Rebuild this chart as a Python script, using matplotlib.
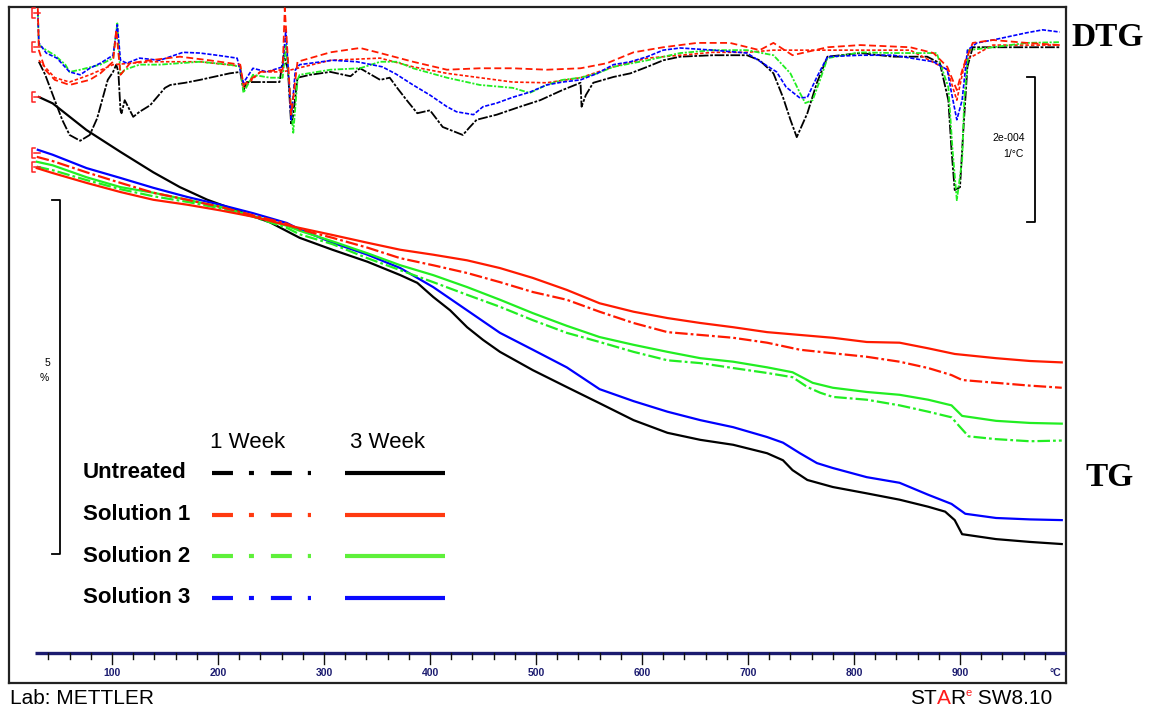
import matplotlib
matplotlib.use("Agg")
import matplotlib.pyplot as plt
from matplotlib.transforms import blended_transform_factory

plt.rcParams['lines.scale_dashes'] = False
plt.rcParams['font.family'] = ['Liberation Sans', 'DejaVu Sans']

# ---------------- data ----------------
# TG curves: temperature (°C) vs. relative mass (%), offset as displayed by STARe
tg_untreated_3w_T = [31, 44, 60, 76, 108, 139, 164, 190, 221, 249, 277, 308, 341, 372, 388, 403, 419, 435, 450, 466,
                     497, 529, 560, 592, 624, 655, 686, 718, 733, 742, 756, 780, 812, 843, 870, 886, 895, 902, 934, 966, 996]
tg_untreated_3w = [100.00, 99.91, 99.72, 99.53, 99.22, 98.93, 98.72, 98.54, 98.37, 98.22, 98.00, 97.83, 97.66, 97.47,
                   97.36, 97.16, 96.97, 96.73, 96.55, 96.38, 96.12, 95.88, 95.65, 95.41, 95.23, 95.13, 95.06, 94.94,
                   94.84, 94.70, 94.56, 94.46, 94.37, 94.28, 94.18, 94.11, 93.99, 93.79, 93.72, 93.68, 93.65]

tg_sol3_3w_T = [30, 44, 76, 108, 139, 171, 202, 233, 265, 277, 308, 341, 372, 403, 435, 466, 497, 529, 560, 592,
                624, 655, 686, 718, 733, 749, 765, 780, 812, 843, 870, 892, 905, 934, 966, 996]
tg_sol3_3w = [99.25, 99.18, 98.99, 98.85, 98.71, 98.58, 98.47, 98.35, 98.21, 98.12, 97.93, 97.76, 97.57, 97.30, 96.97,
              96.65, 96.41, 96.16, 95.85, 95.68, 95.53, 95.41, 95.31, 95.17, 95.09, 94.94, 94.80, 94.73, 94.60, 94.52,
              94.35, 94.22, 94.08, 94.02, 94.00, 93.99]

tg_sol1_3w_T = [29, 44, 76, 108, 139, 171, 202, 233, 265, 277, 308, 341, 372, 403, 435, 466, 497, 529, 560, 592,
                624, 655, 686, 718, 749, 780, 812, 843, 870, 895, 934, 966, 996]
tg_sol1_3w = [98.99, 98.92, 98.78, 98.65, 98.54, 98.47, 98.39, 98.30, 98.18, 98.14, 98.04, 97.93, 97.83, 97.76, 97.68,
              97.57, 97.43, 97.26, 97.07, 96.95, 96.86, 96.79, 96.73, 96.66, 96.62, 96.58, 96.52, 96.51, 96.43, 96.35,
              96.29, 96.25, 96.23]

tg_sol1_1w_T = [29, 44, 76, 108, 139, 171, 202, 233, 265, 277, 308, 341, 372, 403, 435, 466, 497, 529, 560, 592,
                624, 655, 686, 718, 749, 780, 812, 843, 870, 892, 902, 934, 966, 996]
tg_sol1_1w = [99.15, 99.09, 98.93, 98.78, 98.64, 98.54, 98.44, 98.32, 98.20, 98.12, 98.00, 97.86, 97.71, 97.61, 97.50,
              97.37, 97.23, 97.12, 96.95, 96.79, 96.66, 96.62, 96.58, 96.51, 96.41, 96.36, 96.31, 96.24, 96.15, 96.05,
              95.98, 95.94, 95.90, 95.87]

tg_sol2_3w_T = [29, 44, 76, 108, 139, 171, 202, 233, 265, 277, 308, 341, 372, 403, 435, 466, 497, 529, 560, 592,
                624, 655, 686, 718, 742, 761, 780, 812, 843, 870, 892, 902, 934, 966, 996]
tg_sol2_3w = [99.08, 99.03, 98.86, 98.72, 98.64, 98.54, 98.44, 98.31, 98.17, 98.10, 97.95, 97.78, 97.61, 97.47, 97.30,
              97.12, 96.93, 96.75, 96.59, 96.48, 96.38, 96.29, 96.24, 96.16, 96.09, 95.94, 95.87, 95.81, 95.77, 95.70,
              95.62, 95.47, 95.40, 95.37, 95.36]

tg_sol2_1w_T = [29, 44, 76, 108, 139, 171, 202, 233, 265, 277, 308, 341, 372, 403, 435, 466, 497, 529, 560, 592,
                624, 655, 686, 718, 742, 756, 768, 780, 812, 843, 870, 892, 899, 908, 934, 966, 996]
tg_sol2_1w = [99.01, 98.96, 98.82, 98.69, 98.59, 98.51, 98.42, 98.30, 98.14, 98.05, 97.91, 97.71, 97.54, 97.37, 97.19,
              97.02, 96.83, 96.65, 96.52, 96.38, 96.26, 96.22, 96.15, 96.08, 96.02, 95.88, 95.80, 95.74, 95.70, 95.62,
              95.53, 95.45, 95.33, 95.18, 95.14, 95.11, 95.12]

# DTG curves: temperature (°C) vs. DTG in units of 1e-4 1/°C
dtg_untreated_T = [31, 37, 46, 53, 60, 70, 79, 86, 92, 96, 101, 104, 106, 108, 109, 112, 120, 126, 136, 150,
                   155, 169, 183, 211, 221, 224, 227, 235, 258, 262, 266, 269, 271, 275, 287, 306, 325, 334, 353, 362,
                   369, 378, 388, 400, 412, 431, 437, 444, 463, 485, 504, 525, 542, 543, 547, 554, 573, 589, 605, 620,
                   636, 667, 699, 711, 724, 733, 740, 746, 756, 765, 775, 806, 837, 869, 881, 889, 892, 895, 900, 903,
                   907, 912, 931, 963, 994]
dtg_untreated = [-0.30, -0.48, -0.83, -1.10, -1.31, -1.39, -1.31, -1.08, -0.76, -0.55, -0.44, -0.34, -0.44, -0.97,
                 -1.01, -0.83, -1.06, -0.99, -0.90, -0.66, -0.62, -0.59, -0.55, -0.46, -0.44, -0.69, -0.58, -0.58,
                 -0.58, -0.21, -0.41, -1.17, -1.03, -0.52, -0.48, -0.44, -0.50, -0.39, -0.55, -0.52, -0.66, -0.83,
                 -1.01, -0.97, -1.20, -1.31, -1.21, -1.10, -1.03, -0.92, -0.83, -0.69, -0.59, -0.92, -0.76, -0.59,
                 -0.51, -0.46, -0.37, -0.28, -0.23, -0.21, -0.21, -0.28, -0.46, -0.79, -1.10, -1.34, -1.01, -0.59,
                 -0.23, -0.18, -0.23, -0.23, -0.32, -0.83, -1.52, -2.07, -2.03, -1.28, -0.37, -0.10, -0.10, -0.10,
                 -0.10]

dtg_sol3_T = [30, 31, 38, 48, 60, 70, 79, 89, 101, 105, 108, 114, 126, 145, 167, 183, 199, 218, 224, 233,
              246, 261, 264, 269, 273, 277, 308, 331, 355, 368, 384, 400, 416, 425, 441, 450, 463, 478, 494, 510,
              525, 542, 558, 573, 589, 605, 620, 636, 667, 699, 714, 727, 736, 749, 756, 765, 775, 806, 837, 875,
              888, 892, 897, 902, 907, 916, 931, 963, 978, 994]
dtg_sol3 = [0.39, -0.04, -0.18, -0.25, -0.44, -0.48, -0.39, -0.32, -0.21, 0.21, -0.28, -0.32, -0.25, -0.28, -0.17,
            -0.18, -0.21, -0.25, -0.59, -0.39, -0.44, -0.37, 0.14, -1.10, -0.41, -0.34, -0.28, -0.30, -0.37, -0.47,
            -0.62, -0.76, -0.92, -0.99, -1.03, -0.92, -0.87, -0.79, -0.72, -0.62, -0.58, -0.55, -0.46, -0.34, -0.30,
            -0.23, -0.14, -0.11, -0.14, -0.18, -0.32, -0.44, -0.65, -0.80, -0.79, -0.51, -0.23, -0.21, -0.21, -0.30,
            -0.41, -0.73, -1.10, -0.83, -0.14, -0.04, 0.00, 0.10, 0.14, 0.11]

dtg_sol2_T = [30, 31, 38, 46, 56, 60, 70, 89, 101, 105, 108, 112, 126, 145, 183, 211, 221, 224, 233, 249,
              261, 264, 271, 275, 277, 306, 334, 353, 369, 384, 416, 447, 478, 494, 510, 525, 542, 558, 573, 605,
              636, 667, 699, 724, 740, 749, 754, 761, 768, 775, 806, 837, 878, 889, 893, 897, 902, 904, 908, 931,
              963, 994]
dtg_sol2 = [0.39, -0.07, -0.14, -0.21, -0.34, -0.44, -0.41, -0.34, -0.25, 0.23, -0.48, -0.41, -0.34, -0.34, -0.30,
            -0.34, -0.37, -0.73, -0.48, -0.52, -0.52, -0.07, -1.28, -0.55, -0.48, -0.41, -0.39, -0.30, -0.30, -0.39,
            -0.52, -0.62, -0.66, -0.73, -0.62, -0.55, -0.52, -0.46, -0.37, -0.28, -0.18, -0.14, -0.14, -0.21, -0.46,
            -0.73, -0.87, -0.83, -0.55, -0.25, -0.17, -0.18, -0.18, -0.65, -1.52, -2.21, -1.66, -0.83, -0.14, -0.10,
            -0.04, -0.03]

dtg_sol1_1w_T = [30, 31, 37, 46, 60, 79, 89, 101, 104, 108, 117, 136, 164, 192, 221, 224, 240, 261, 263, 266,
                 269, 275, 287, 306, 334, 353, 384, 416, 447, 478, 510, 542, 567, 592, 620, 652, 683, 711, 724, 742,
                 775, 806, 853, 875, 888, 897, 903, 912, 931, 963, 994]
dtg_sol1_1w = [0.44, -0.14, -0.41, -0.55, -0.62, -0.55, -0.46, -0.30, 0.14, -0.48, -0.32, -0.28, -0.23, -0.28,
               -0.34, -0.62, -0.44, -0.41, 0.44, -0.28, -1.03, -0.30, -0.25, -0.17, -0.11, -0.18, -0.30, -0.41,
               -0.39, -0.39, -0.41, -0.39, -0.32, -0.17, -0.10, -0.04, -0.04, -0.14, -0.04, -0.21, -0.10, -0.07,
               -0.10, -0.18, -0.37, -0.69, -0.37, -0.04, 0.00, -0.04, -0.07]

dtg_sol1_3w_T = [31, 46, 60, 79, 101, 136, 183, 221, 224, 240, 261, 275, 306, 353, 384, 416, 447, 478, 510, 542,
                 573, 605, 667, 699, 724, 775, 853, 888, 897, 905, 931, 994]
dtg_sol1_3w = [-0.28, -0.52, -0.58, -0.48, -0.34, -0.30, -0.30, -0.36, -0.66, -0.44, -0.44, -0.39, -0.28, -0.25,
               -0.37, -0.46, -0.52, -0.58, -0.59, -0.52, -0.37, -0.25, -0.17, -0.17, -0.14, -0.14, -0.14, -0.41,
               -0.83, -0.28, -0.07, -0.07]

x_major_ticks = [100, 200, 300, 400, 500, 600, 700, 800, 900]
x_minor_ticks = list(range(40, 1000, 20))
legend_rows = ['Untreated', 'Solution 1', 'Solution 2', 'Solution 3']
legend_cols = ['1 Week', '3 Week']

# ---------------- layout ----------------
W, H = 1149, 711
BLACK, RED, GREEN, BLUE = '#000000', '#ff1a00', '#22ee22', '#0000ff'
LEG_COLORS = ['#000000', '#ff3a10', '#5ef03a', '#0a0aff']
NAVY = '#1c1c70'

fig = plt.figure(figsize=(W / 100, H / 100), dpi=100)
FL, FR, FT, FB = 9, 1066, 7, 683
rect = [FL / W, 1 - FB / H, (FR - FL) / W, (FB - FT) / H]

# calibrations (pixel positions of the scales)
T_of_px = lambda p: 100 + (p - 112) / 1.06
TG_of_px = lambda p: 100 - (p - 97) / 70.4
DTG_of_px = lambda p: (40 - p) / 72.5

ax = fig.add_axes(rect)
ax.set_xlim(T_of_px(FL), T_of_px(FR))
ax.set_ylim(TG_of_px(FB), TG_of_px(FT))
ax.set_xticks([]); ax.set_yticks([])
for s in ax.spines.values():
    s.set_linewidth(1.6); s.set_color('#222222')

ax2 = fig.add_axes(rect, sharex=ax)
ax2.set_ylim(DTG_of_px(FB), DTG_of_px(FT))
ax2.axis('off')
ax2.patch.set_visible(False)

ov = fig.add_axes([0, 0, 1, 1])
ov.set_xlim(0, W); ov.set_ylim(H, 0)
ov.axis('off'); ov.patch.set_visible(False)

dd = (0, (9, 2.2, 2, 2.2))
# TG curves
ax.plot(tg_untreated_3w_T, tg_untreated_3w, color=BLACK, lw=1.6)
ax.plot(tg_sol3_3w_T, tg_sol3_3w, color=BLUE, lw=1.6)
ax.plot(tg_sol2_1w_T, tg_sol2_1w, color=GREEN, lw=1.6, ls=dd)
ax.plot(tg_sol2_3w_T, tg_sol2_3w, color=GREEN, lw=1.6)
ax.plot(tg_sol1_1w_T, tg_sol1_1w, color=RED, lw=1.6, ls=dd)
ax.plot(tg_sol1_3w_T, tg_sol1_3w, color=RED, lw=1.6)

# DTG curves
ax2.plot(dtg_untreated_T, dtg_untreated, color=BLACK, lw=1.3, ls=(0, (7, 1.2, 2, 1.2)))
ax2.plot(dtg_sol1_3w_T, dtg_sol1_3w, color=RED, lw=1.2, ls=(0, (2.5, 1.5)))
ax2.plot(dtg_sol2_T, dtg_sol2, color=GREEN, lw=1.3, ls=(0, (4, 1.2, 1.5, 1.2)))
ax2.plot(dtg_sol3_T, dtg_sol3, color=BLUE, lw=1.2, ls=(0, (3, 1.2)))
ax2.plot(dtg_sol1_1w_T, dtg_sol1_1w, color=RED, lw=1.3, ls=(0, (5, 2.5)))

# temperature axis (x in °C, y in pixels)
AXY = 653
tr = blended_transform_factory(ax.transData, ov.transData)
ov.plot([27, T_of_px(FR)], [AXY, AXY], color=NAVY, lw=2.4, transform=tr, solid_capstyle='butt')
for t in x_minor_ticks:
    L = 11 if t in x_major_ticks else 6
    ov.plot([t, t], [AXY, AXY + L], color='#111111', lw=1.0, transform=tr)
for t in x_major_ticks:
    ov.text(t, 673, str(t), transform=tr, ha='center', va='center', fontsize=7.5, color=NAVY,
            fontweight='bold')
ov.text(990, 673, '°C', transform=tr, ha='center', va='center', fontsize=7.5, color=NAVY, fontweight='bold')

# start markers
for y in [13, 47, 97, 153, 167]:
    ov.plot([35, 31.5, 31.5, 35], [y - 5, y - 5, y + 5, y + 5], color='#ff2020', lw=1.1)
    ov.plot([34, 40], [y, y], color='#ff2020', lw=1.1)

# scale bars
ov.plot([52, 60, 60, 52], [200, 200, 554, 554], color='black', lw=1.3)
ov.text(47, 363, '5', ha='center', va='center', fontsize=7.5)
ov.text(44, 378, '%', ha='center', va='center', fontsize=7.5)
ov.plot([1027, 1035, 1035, 1027], [77, 77, 222, 222], color='black', lw=1.3)
ov.text(1025, 138, '2e-004', ha='right', va='center', fontsize=7.5)
ov.text(1024, 154, '1/°C', ha='right', va='center', fontsize=7.5)

# side labels
ov.text(1108, 38, 'DTG', ha='center', va='center', fontsize=24, fontweight='bold', family='Liberation Serif')
ov.text(1110, 478, 'TG', ha='center', va='center', fontsize=24, fontweight='bold', family='Liberation Serif')

# legend
ov.text(248, 443, legend_cols[0], ha='center', va='center', fontsize=16)
ov.text(387, 443, legend_cols[1], ha='center', va='center', fontsize=16)
for i, (name, c) in enumerate(zip(legend_rows, LEG_COLORS)):
    y = 473 + i * 41.5
    ov.text(83, y, name, ha='left', va='center', fontsize=16, fontweight='bold')
    ov.plot([212, 311], [y, y], color=c, lw=3.0, ls=(0, (15.1, 11.5, 3.6, 12.2)), dash_capstyle='butt')
    ov.plot([345, 445], [y, y], color=c, lw=3.0, solid_capstyle='butt')

# footer
ov.text(10, 698, 'Lab: METTLER', ha='left', va='center', fontsize=15)
fig.canvas.draw()
renderer = fig.canvas.get_renderer()
pieces = [('ST', 'black', 15, 0), ('A', '#ff1a1a', 15, 0), ('R', 'black', 15, 0),
          ('e', '#ff1a1a', 8, -5), (' SW8.10', 'black', 15, 0)]
x = 910
for txt, col, fs, dy in pieces:
    t = ov.text(x, 698 + dy, txt, ha='left', va='center', fontsize=fs, color=col)
    bb = t.get_window_extent(renderer)
    x += bb.width

fig.savefig('out.png', dpi=100)
